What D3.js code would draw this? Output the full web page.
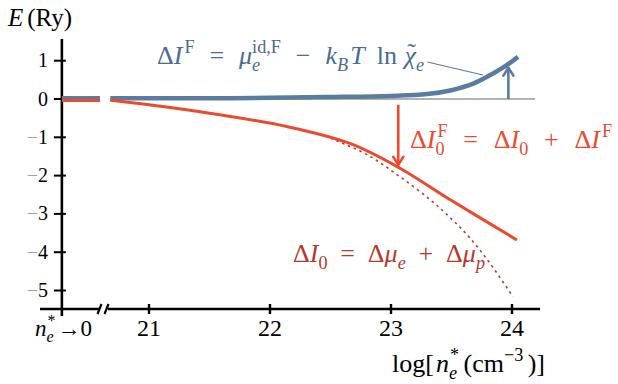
<!DOCTYPE html>
<html>
<head>
<meta charset="utf-8">
<script src="https://cdn.jsdelivr.net/npm/d3@7"></script>
<style>
  body { margin: 0; background: #fff; }
  svg { display: block; }
  svg text { white-space: pre; }
</style>
</head>
<body>
<div class="chart"></div>
<script>
// values: x = log10 n_e* (cm^-3), E in Ry
var xTicks = [21, 22, 23, 24];
var yTicks = [1, 0, -1, -2, -3, -4, -5];
var zeroPos = 20.28;          // where "n_e* -> 0" sits on the broken axis
var leftEnd = 20.595;         // end of the short segment before the break

var blueV = [20.68, 21.0, 21.5, 22.0, 22.5, 23.0, 23.3, 23.5, 23.68, 23.84, 23.95, 24.05];
var blueE = [0.02, 0.02, 0.02, 0.03, 0.05, 0.08, 0.13, 0.23, 0.40, 0.66, 0.87, 1.10];

var redV = [20.68, 21.0, 21.5, 22.14, 22.66, 23.07, 23.49, 24.04];
var redE = [-0.03, -0.15, -0.37, -0.72, -1.16, -1.80, -2.63, -3.68];

var dotV = [22.5, 22.8, 23.07, 23.32, 23.49, 23.65, 23.82, 24.01];
var dotE = [-1.02, -1.45, -2.02, -2.62, -3.1, -3.62, -4.3, -5.17];

var leftV = [zeroPos, leftEnd];
var leftBlueE = [0.02, 0.02];
var leftRedE = [-0.04, -0.04];

var zeroLineV = [20.68, 24.19];
var blueArrow = {v: 23.97, from: 0, to: 0.82};
var redArrow = {v: 23.06, from: -0.15, to: -1.72};
var leader = {v: [23.30, 23.76], e: [0.966, 0.627]};

var FONT = "Liberation Serif, DejaVu Serif, serif";
var BLUE = "#5a7ca0", RED = "#ec4a2e", DARKRED = "#b63a2c", GRAY = "#b3b3b3";

var width = 618, height = 384;
var svg = d3.select(".chart").append("svg").attr("width", width).attr("height", height)
    .attr("font-family", FONT);

var x = d3.scaleLinear().domain([21, 24]).range([149, 512]);
var y = d3.scaleLinear().domain([0, 1]).range([99, 60.7]);

function pts(vs, es) {
    return vs.map(function(v, i) { return [v, es[i]]; });
}
var line = d3.line().x(function(d) { return x(d[0]); }).y(function(d) { return y(d[1]); }).curve(d3.curveCatmullRom);

// axes
var axisY = 309;
svg.append("line").attr("x1", x(zeroPos)).attr("x2", x(zeroPos)).attr("y1", 39).attr("y2", 316).attr("stroke", "#000").attr("stroke-width", 2.6);
svg.append("line").attr("x1", 40).attr("x2", 100).attr("y1", axisY).attr("y2", axisY).attr("stroke", "#000").attr("stroke-width", 2.6);
svg.append("line").attr("x1", 108).attr("x2", 540).attr("y1", axisY).attr("y2", axisY).attr("stroke", "#000").attr("stroke-width", 2.6);
// break marks
[99.5, 106.5].forEach(function(bx) {
    svg.append("line").attr("x1", bx - 2).attr("x2", bx + 2).attr("y1", axisY + 5).attr("y2", axisY - 5).attr("stroke", "#000").attr("stroke-width", 2.2);
});

yTicks.forEach(function(t) {
    svg.append("line").attr("x1", x(zeroPos) - 8).attr("x2", x(zeroPos) + 4).attr("y1", y(t)).attr("y2", y(t)).attr("stroke", "#000").attr("stroke-width", 2);
    var tx = svg.append("text").attr("x", 48).attr("y", y(t) + 6.5).attr("text-anchor", "end")
        .attr("font-size", 20);
    if (t < 0) {
        tx.append("tspan").attr("fill", "#8fa5bc").text("\u2212");
        tx.append("tspan").attr("fill", "#000").text(Math.abs(t));
    } else {
        tx.append("tspan").attr("fill", "#000").text(t);
    }
});

xTicks.forEach(function(t) {
    svg.append("line").attr("x1", x(t)).attr("x2", x(t)).attr("y1", axisY - 5).attr("y2", axisY + 5).attr("stroke", "#000").attr("stroke-width", 2.4);
    svg.append("text").attr("x", x(t)).attr("y", 336).attr("text-anchor", "middle")
        .attr("font-size", 24).text(t);
});

// zero reference line
svg.append("path").datum(pts(zeroLineV, [0, 0])).attr("d", line).attr("fill", "none").attr("stroke", GRAY).attr("stroke-width", 2);

// curves
svg.append("path").datum(pts(dotV, dotE)).attr("d", line).attr("fill", "none").attr("stroke", DARKRED).attr("stroke-width", 1.6).attr("stroke-dasharray", "2.5,3.8");
svg.append("path").datum(pts(leftV, leftBlueE)).attr("d", line).attr("fill", "none").attr("stroke", BLUE).attr("stroke-width", 4.5);
svg.append("path").datum(pts(blueV, blueE)).attr("d", line).attr("fill", "none").attr("stroke", BLUE).attr("stroke-width", 4.5);
svg.append("path").datum(pts(leftV, leftRedE)).attr("d", line).attr("fill", "none").attr("stroke", RED).attr("stroke-width", 3);
svg.append("path").datum(pts(redV, redE)).attr("d", line).attr("fill", "none").attr("stroke", RED).attr("stroke-width", 3);

// arrows
function arrow(a, color) {
    var ax = x(a.v), y0 = y(a.from), y1 = y(a.to);
    var dir = y1 < y0 ? 1 : -1;
    svg.append("line").attr("x1", ax).attr("x2", ax).attr("y1", y0).attr("y2", y1).attr("stroke", color).attr("stroke-width", 2.6);
    svg.append("path").attr("d", "M" + (ax - 5) + "," + (y1 + dir * 8) + "L" + ax + "," + y1 + "L" + (ax + 5) + "," + (y1 + dir * 8))
        .attr("fill", "none").attr("stroke", color).attr("stroke-width", 2.6).attr("stroke-linecap", "round").attr("stroke-linejoin", "round");
}
arrow(blueArrow, BLUE);
arrow(redArrow, RED);

svg.append("line").attr("x1", x(leader.v[0])).attr("y1", y(leader.e[0])).attr("x2", x(leader.v[1])).attr("y2", y(leader.e[1]))
    .attr("stroke", BLUE).attr("stroke-width", 1.2);

// math-ish labels: tokens measured first, then spread to the width they take in the figure.
// t is a string or a list of [text, italic] pieces; w = share of the spare width after the token
function mathLabel(x0, y0, x1, tokens, size, color) {
    var g = svg.append("g").attr("fill", color);
    var items = tokens.map(function(tk) {
        var it = {tk: tk, w: 0};
        if (tk.t) {
            var n = g.append("text").attr("y", y0).attr("font-size", size);
            var pieces = typeof tk.t === "string" ? [[tk.t, tk.i]] : tk.t;
            pieces.forEach(function(p) {
                n.append("tspan").attr("font-style", p[1] ? "italic" : "normal").text(p[0]);
            });
            it.main = n;
            it.w = n.node().getComputedTextLength();
        }
        var ws = 0, wp = 0;
        if (tk.sub) {
            it.sub = g.append("text").attr("y", y0 + size * 0.25).attr("font-size", size * 0.7)
                .attr("font-style", tk.subI ? "italic" : "normal").text(tk.sub);
            ws = it.sub.node().getComputedTextLength() + (tk.subDx || 0);
        }
        if (tk.sup) {
            it.sup = g.append("text").attr("y", y0 - size * 0.42).attr("font-size", size * 0.7)
                .attr("font-style", tk.supI ? "italic" : "normal").text(tk.sup);
            wp = it.sup.node().getComputedTextLength() + (tk.supDx || 0);
        }
        it.total = it.w + Math.max(ws, wp);
        it.weight = tk.w === undefined ? 1 : tk.w;
        return it;
    });
    var sum = d3.sum(items, function(d) { return d.total; });
    var wsum = d3.sum(items.slice(0, -1), function(d) { return d.weight; });
    var unit = (x1 && wsum > 0) ? Math.max(0, (x1 - x0 - sum) / wsum) : 4;
    var cx = x0;
    items.forEach(function(it) {
        var tk = it.tk;
        if (it.main) it.main.attr("x", cx);
        if (tk.tilde) {
            g.append("text").attr("x", cx + it.w / 2 + 1.5).attr("y", y0 - size * 0.12).attr("font-size", size)
                .attr("text-anchor", "middle").text("\u02dc");
        }
        if (it.sub) it.sub.attr("x", cx + it.w + (tk.subDx || 0));
        if (it.sup) it.sup.attr("x", cx + it.w + (tk.supDx || 0));
        cx += it.total + unit * it.weight;
    });
}

mathLabel(8, 26, null, [{t: "E", i: 1, w: 1}, {t: "(Ry)"}], 25, "#000");
mathLabel(35, 336, 92, [{t: "n", i: 1, sub: "e", subI: 1, sup: "*", supDx: 1}, {t: "\u21920"}], 23, "#000");
mathLabel(392, 372, 545, [
    {t: "log[", w: 0.15}, {t: "n", i: 1, sub: "e", subI: 1, sup: "*", supDx: 1, w: 0.3},
    {t: "(cm", sup: "\u22123", w: 0.3}, {t: ")]"}
], 26, "#000");

mathLabel(157, 64, 424, [
    {t: [["\u0394", 0], ["I", 1]], sup: "F", supDx: 2}, {t: "="},
    {t: "\u03bc", i: 1, sub: "e", subI: 1, sup: "id,F"}, {t: "\u2212"},
    {t: "k", i: 1, sub: "B", subI: 1, w: 0.15}, {t: "T", i: 1, w: 0.8}, {t: "ln", w: 0.5},
    {t: "\u03c7", i: 1, tilde: 1, sub: "e", subI: 1}
], 26, "#4b6b8f");

mathLabel(410, 148, 612, [
    {t: [["\u0394", 0], ["I", 1]], sub: "0", sup: "F", supDx: 2}, {t: "="},
    {t: [["\u0394", 0], ["I", 1]], sub: "0"}, {t: "+"},
    {t: [["\u0394", 0], ["I", 1]], sup: "F", supDx: 2}
], 26, RED);

mathLabel(293, 262, 485, [
    {t: [["\u0394", 0], ["I", 1]], sub: "0"}, {t: "="},
    {t: [["\u0394", 0], ["\u03bc", 1]], sub: "e", subI: 1}, {t: "+"},
    {t: [["\u0394", 0], ["\u03bc", 1]], sub: "p", subI: 1}
], 26, DARKRED);
</script>
</body>
</html>
